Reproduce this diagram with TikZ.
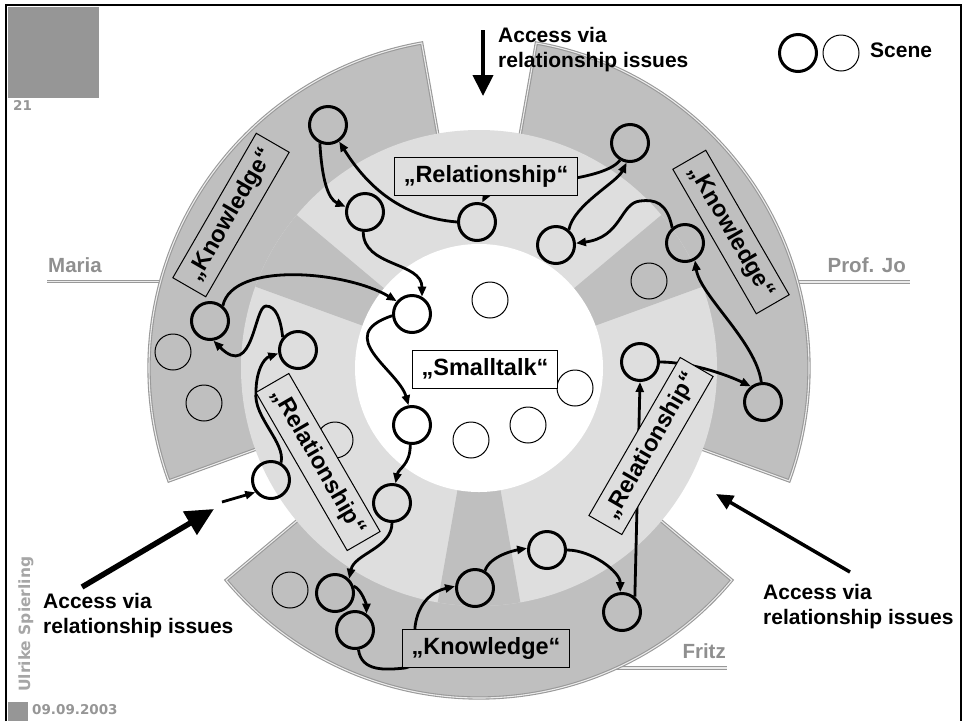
\documentclass[tikz,border=0pt]{standalone}
\usepackage{fontspec}
\setmainfont{Liberation Sans}[BoldFont={Liberation Sans Bold}]
\newfontfamily\slidefont{DejaVu Sans}
\usetikzlibrary{arrows.meta}

\definecolor{sectorgray}{gray}{0.75}
\definecolor{ringgray}{gray}{0.87}
\definecolor{markgray}{gray}{0.59}
\definecolor{persongray}{gray}{0.56}

\tikzset{
  scene/.style={circle, draw, line width=3pt, minimum size=37pt, inner sep=0pt},
  thinscene/.style={circle, draw, line width=1pt, minimum size=36pt, inner sep=0pt},
  phase/.style={draw, line width=1pt, inner xsep=9pt, inner ysep=0pt, minimum height=38pt,
    font=\fontsize{23.5}{28}\selectfont\bfseries},
  conn/.style={line width=2.8pt, -{Triangle[length=10pt,width=8pt]}},
  access/.style={anchor=north west, inner sep=0pt, align=left,
    font=\fontsize{21}{25}\selectfont\bfseries},
  person/.style={anchor=base east, inner sep=0pt, text=persongray,
    font=\fontsize{20.5}{24}\selectfont\bfseries},
  rim/.style={draw=gray!80, double=white!92!black, line width=1.1pt, double distance=1.1pt},
  slidetext/.style={inner sep=0pt, text=markgray, font=\slidefont\bfseries\fontsize{13.5}{16}\selectfont},
}

\begin{document}
\begin{tikzpicture}[x=1pt,y=-1pt]
\useasboundingbox (0,0) rectangle (963,721);

% slide frame
\draw[line width=2.2pt] (6,721) -- (6,5) -- (961,5) -- (961,721);
\fill[markgray] (8,7) rectangle (99,98);
\fill[markgray] (8,702) rectangle (28,721);
\node[slidetext, anchor=base west] (pageno) at (13,110) {21};
\node[slidetext, anchor=base west, rotate=90, text=gray!70,
  font=\slidefont\bfseries\fontsize{15.5}{18}\selectfont] (author) at (30,692) {Ulrike Spierling};
\node[slidetext, anchor=base west] (date) at (32,714) {09.09.2003};

\coordinate (O) at (479,368);

% lines under the persons
\draw[rim] (47,281.5) -- (170,281.5);
\draw[rim] (790,282) -- (910,282);
\draw[rim] (600,668) -- (727,668);

% the three sectors
\foreach \a in {-80,40,160}{
  \fill[sectorgray] (O) -- ([shift={(O)}]\a:330) arc[start angle=\a, delta angle=100, radius=330] -- cycle;
  \draw[rim] ([shift={(O)}]\a:225) -- ([shift={(O)}]\a:330)
    arc[start angle=\a, delta angle=100, radius=330] -- ([shift={(O)}]\a+100:225);
}

% rings
\fill[ringgray] (O) circle[radius=238];
\foreach \a in {-40,80,200}
  \fill[sectorgray] (O) -- ([shift={(O)}]\a:238) arc[start angle=\a, delta angle=20, radius=238] -- cycle;
\fill[white] (O) circle[radius=124];

% persons
\node[person, anchor=base west] (maria) at (48,272) {Maria};
\node[person] (profjo) at (906,272) {Prof. Jo};
\node[person] (fritz) at (726,658) {Fritz};

% scenes
\foreach \n/\x/\y in {ma1/328/125, ma2/210/321, rl1/298/350, rl3/271/480, re1/365/212,
    re2/477/222, jo1/630/143, jo2/556/245, jo3/685/243, sm1/412/314, sm3/412/425,
    rr1/640/362, rr2/763/402, rl4/392/503, fr1/335/593, fr2/355/630, fr4/475/588,
    fr5/547/550, fr6/622/612}
  \node[scene] (\n) at (\x,\y) {};
\foreach \n/\x/\y in {ma3/173/352, ma4/204/403, rl2/335/440, jo4/649/281, sm2/490/300,
    sm4/471/440, sm5/528/425, sm6/575/388, fr3/290/590}
  \node[thinscene] (\n) at (\x,\y) {};

% paths between the scenes
\draw[conn] (ma1.-114) .. controls +(2,35) and +(-18,-8) .. (re1.165);
\draw[conn] (re2.180) .. controls +(-60,-5) and +(25,40) .. (ma1.-56);
\draw[conn] (jo1.-120) .. controls +(-20,25) and +(10,-20) .. (re2.75);
\draw[conn] (re1.-95) .. controls +(0,35) and +(0,-35) .. (sm1.60);
\draw[conn] (ma2.50) .. controls +(10,-45) and +(-50,-30) .. (sm1.140);
\draw[conn] (sm1.185) .. controls +(-60,20) and +(-10,-35) .. (sm3.100);
\draw[conn] (sm3.-95) .. controls +(0,20) and +(3,-15) .. (rl4.80);
\draw[conn] (rl4.-90) .. controls +(0,25) and +(5,-25) .. (fr1.45);
\draw[conn] (fr1.20) .. controls +(8,3) and +(0,-8) .. (fr2.55);
\draw[conn] (fr2.-80) .. controls +(3,22) and +(-20,2) .. (405,668)
  .. controls +(12,-1) and +(0,20) .. (415,627) .. controls +(3,-25) and +(-22,5) .. (fr4.175);
\draw[conn] (fr4.60) .. controls +(5,-15) and +(-12,2) .. (fr5.175);
\draw[conn] (fr5.0) .. controls +(25,0) and +(0,-20) .. (fr6.95);
\draw[conn] (fr6.50) -- (rr1.south);
\draw[conn] (rr1.east) .. controls +(30,0) and +(-25,-12) .. (rr2.128);
\draw[conn] (rr2.95) .. controls +(-5,-40) and +(5,35) .. (jo3.-60);
\draw[conn] (jo3.130) .. controls +(-5,-25) and +(15,-2) .. (640,201)
  .. controls +(-20,2) and +(46,-6) .. (jo2.5);
\draw[conn] (jo2.50) .. controls +(5,-25) and +(-10,20) .. (jo1.-100);
\draw[conn] (rl1.140) .. controls +(-2,-18) and +(10,0) .. (266,306)
  .. controls +(-12,0) and +(40,40) .. (ma2.-80);
\draw[conn] (rl3.60) .. controls +(5,-20) and +(-3,25) .. (256,392)
  .. controls +(0,-20) and +(-15,5) .. (rl1.190);
\coordinate (entry) at (222,502);
\draw[conn] (entry) -- (rl3.218);

% phases
\node[phase, fill=ringgray] (reltop) at (486,176) {„Relationship“};
\node[phase, fill=white] (smalltalk) at (485,369) {„Smalltalk“};
\node[phase, fill=sectorgray] (knowbot) at (486,648) {„Knowledge“};
\node[phase, fill=sectorgray, rotate=60] (knowma) at (231,215) {„Knowledge“};
\node[phase, fill=sectorgray, rotate=-60] (knowjo) at (731,232) {„Knowledge“};
\node[phase, fill=ringgray, rotate=-60] (relma) at (318,462) {„Relationship“};
\node[phase, fill=ringgray, rotate=60] (reljo) at (651,446) {„Relationship“};

% access arrows
\coordinate (topfrom) at (483,30);
\coordinate (topto) at (483,96);
\draw[line width=4pt, -{Triangle[length=21pt,width=20pt]}] (topfrom) -- (topto);
\coordinate (leftfrom) at (82,587);
\coordinate (leftto) at (214,509);
\draw[line width=5.5pt, -{Triangle[length=28pt,width=26pt]}] (leftfrom) -- (leftto);
\coordinate (rightfrom) at (850,572);
\coordinate (rightto) at (716,494);
\draw[line width=3.5pt, -{Triangle[length=17pt,width=15pt]}] (rightfrom) -- (rightto);

\node[access] (accesstop) at (498,27) {Access via\\relationship issues};
\node[access] (accessleft) at (43,593) {Access via\\relationship issues};
\node[access] (accessright) at (763,584) {Access via\\relationship issues};

% legend
\node[scene] (lg1) at (798,53) {};
\node[thinscene] (lg2) at (841,53) {};
\node[anchor=north west, inner sep=0pt, font=\fontsize{21}{25}\selectfont\bfseries] (scenetxt) at (870,43) {Scene};

\end{tikzpicture}
\end{document}
